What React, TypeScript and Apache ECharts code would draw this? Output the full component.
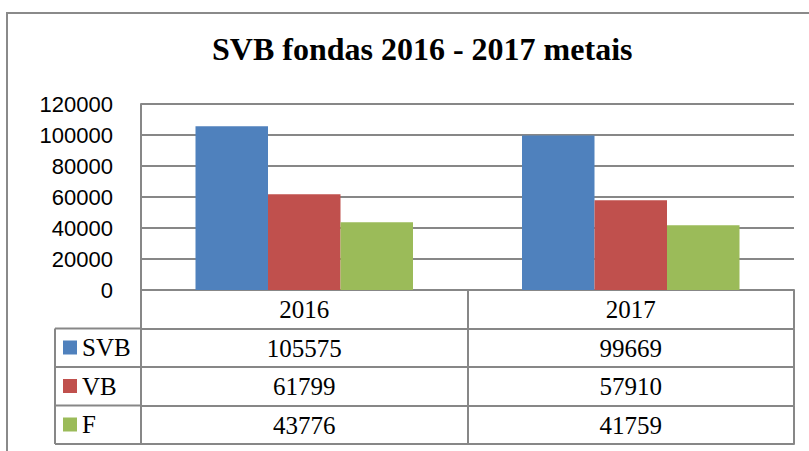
import React, { useEffect, useRef } from "react";
import * as echarts from "echarts";

const TITLE = "SVB fondas 2016 - 2017 metais";
const CATEGORIES = ["2016", "2017"];
const SERIES_NAMES = ["SVB", "VB", "F"];
const SVB = [105575, 99669];
const VB = [61799, 57910];
const F = [43776, 41759];
const SERIES_VALUES = [SVB, VB, F];
const COLORS = ["#4F81BD", "#C0504D", "#9BBB59"];
const Y_MIN = 0;
const Y_MAX = 120000;
const Y_STEP = 20000;

const W = 809;
const H = 451;
const GRID_LEFT = 141;
const GRID_RIGHT = 794;
const GRID_TOP = 104;
const AXIS_Y = 290;
const ROW_H = 38.5;
const TABLE_LEFT = 55;
const LINE = "#878787";
const SERIF = "Liberation Serif";
const SANS = "Liberation Sans";

export default function App() {
  const ref = useRef<HTMLDivElement>(null);
  useEffect(() => {
    if (!ref.current) return;
    const chart = echarts.init(ref.current, null, { renderer: "svg" });

    const tableAxes: any[] = SERIES_VALUES.map((vals, k) => ({
      type: "category",
      data: CATEGORIES,
      position: "bottom",
      offset: (k + 1) * ROW_H,
      gridIndex: 0,
      axisLine: { show: true, lineStyle: { color: LINE, width: 2 } },
      axisTick: { show: true, interval: 0, length: ROW_H, lineStyle: { color: LINE, width: 2 } },
      axisLabel: {
        interval: 0,
        margin: 7,
        fontFamily: SERIF,
        fontSize: 25,
        color: "#000",
        formatter: (_v: string, i: number) => String(vals[i]),
      },
      splitLine: { show: false },
    }));
    tableAxes.push({
      type: "category",
      data: CATEGORIES,
      position: "bottom",
      offset: (SERIES_VALUES.length + 1) * ROW_H,
      gridIndex: 0,
      axisLine: { show: true, lineStyle: { color: LINE, width: 2 } },
      axisTick: { show: false },
      axisLabel: { show: false },
    });

    const legendLines: any[] = [];
    for (let r = 0; r <= SERIES_NAMES.length; r++) {
      const y = AXIS_Y + (r + 1) * ROW_H;
      legendLines.push({
        type: "line",
        shape: { x1: TABLE_LEFT, y1: y, x2: GRID_LEFT, y2: y },
        style: { stroke: LINE, lineWidth: 2 },
      });
    }
    legendLines.push({
      type: "line",
      shape: {
        x1: TABLE_LEFT,
        y1: AXIS_Y + ROW_H,
        x2: TABLE_LEFT,
        y2: AXIS_Y + (SERIES_NAMES.length + 1) * ROW_H,
      },
      style: { stroke: LINE, lineWidth: 2 },
    });

    chart.setOption({
      animation: false,
      backgroundColor: "#fff",
      textStyle: { fontFamily: SERIF },
      title: {
        text: TITLE,
        left: 212,
        top: 33,
        padding: 0,
        textStyle: { fontFamily: SERIF, fontWeight: "bold", fontSize: 32, color: "#000" },
      },
      legend: {
        data: SERIES_NAMES,
        orient: "vertical",
        left: 63,
        top: AXIS_Y + ROW_H + 6.5,
        padding: 0,
        icon: "rect",
        itemWidth: 14,
        itemHeight: 14,
        itemGap: ROW_H - 25,
        textStyle: { fontFamily: SERIF, fontSize: 25, lineHeight: 25, color: "#000" },
      },
      grid: {
        left: GRID_LEFT,
        right: W - GRID_RIGHT,
        top: GRID_TOP,
        bottom: H - AXIS_Y,
        containLabel: false,
      },
      xAxis: [
        {
          type: "category",
          data: CATEGORIES,
          position: "bottom",
          axisLine: { show: true, lineStyle: { color: LINE, width: 2 } },
          axisTick: { show: true, interval: 0, length: ROW_H, lineStyle: { color: LINE, width: 2 } },
          axisLabel: { interval: 0, margin: 7, fontFamily: SERIF, fontSize: 25, color: "#000" },
        },
        ...tableAxes,
      ],
      yAxis: {
        type: "value",
        min: Y_MIN,
        max: Y_MAX,
        interval: Y_STEP,
        axisLine: { show: true, lineStyle: { color: LINE, width: 2 } },
        axisTick: { show: false },
        axisLabel: {
          margin: 28,
          fontFamily: SANS,
          fontSize: 22,
          color: "#000",
          formatter: (v: number) => String(v),
        },
        splitLine: { show: true, lineStyle: { color: LINE, width: 2 } },
      },
      series: SERIES_NAMES.map((name, k) => ({
        name,
        type: "bar",
        data: SERIES_VALUES[k],
        xAxisIndex: 0,
        yAxisIndex: 0,
        barWidth: 72.5,
        barGap: "0%",
        itemStyle: { color: COLORS[k] },
      })),
      graphic: [
        {
          type: "rect",
          shape: { x: 7, y: 13, width: W + 20, height: H + 20 },
          style: { fill: "none", stroke: "#8a8a8a", lineWidth: 2 },
          silent: true,
        },
        ...legendLines,
      ],
    });
    return () => chart.dispose();
  }, []);
  return (
    <div
      ref={ref}
      style={{ position: "fixed", left: 0, top: 0, width: W, height: H }}
    />
  );
}
